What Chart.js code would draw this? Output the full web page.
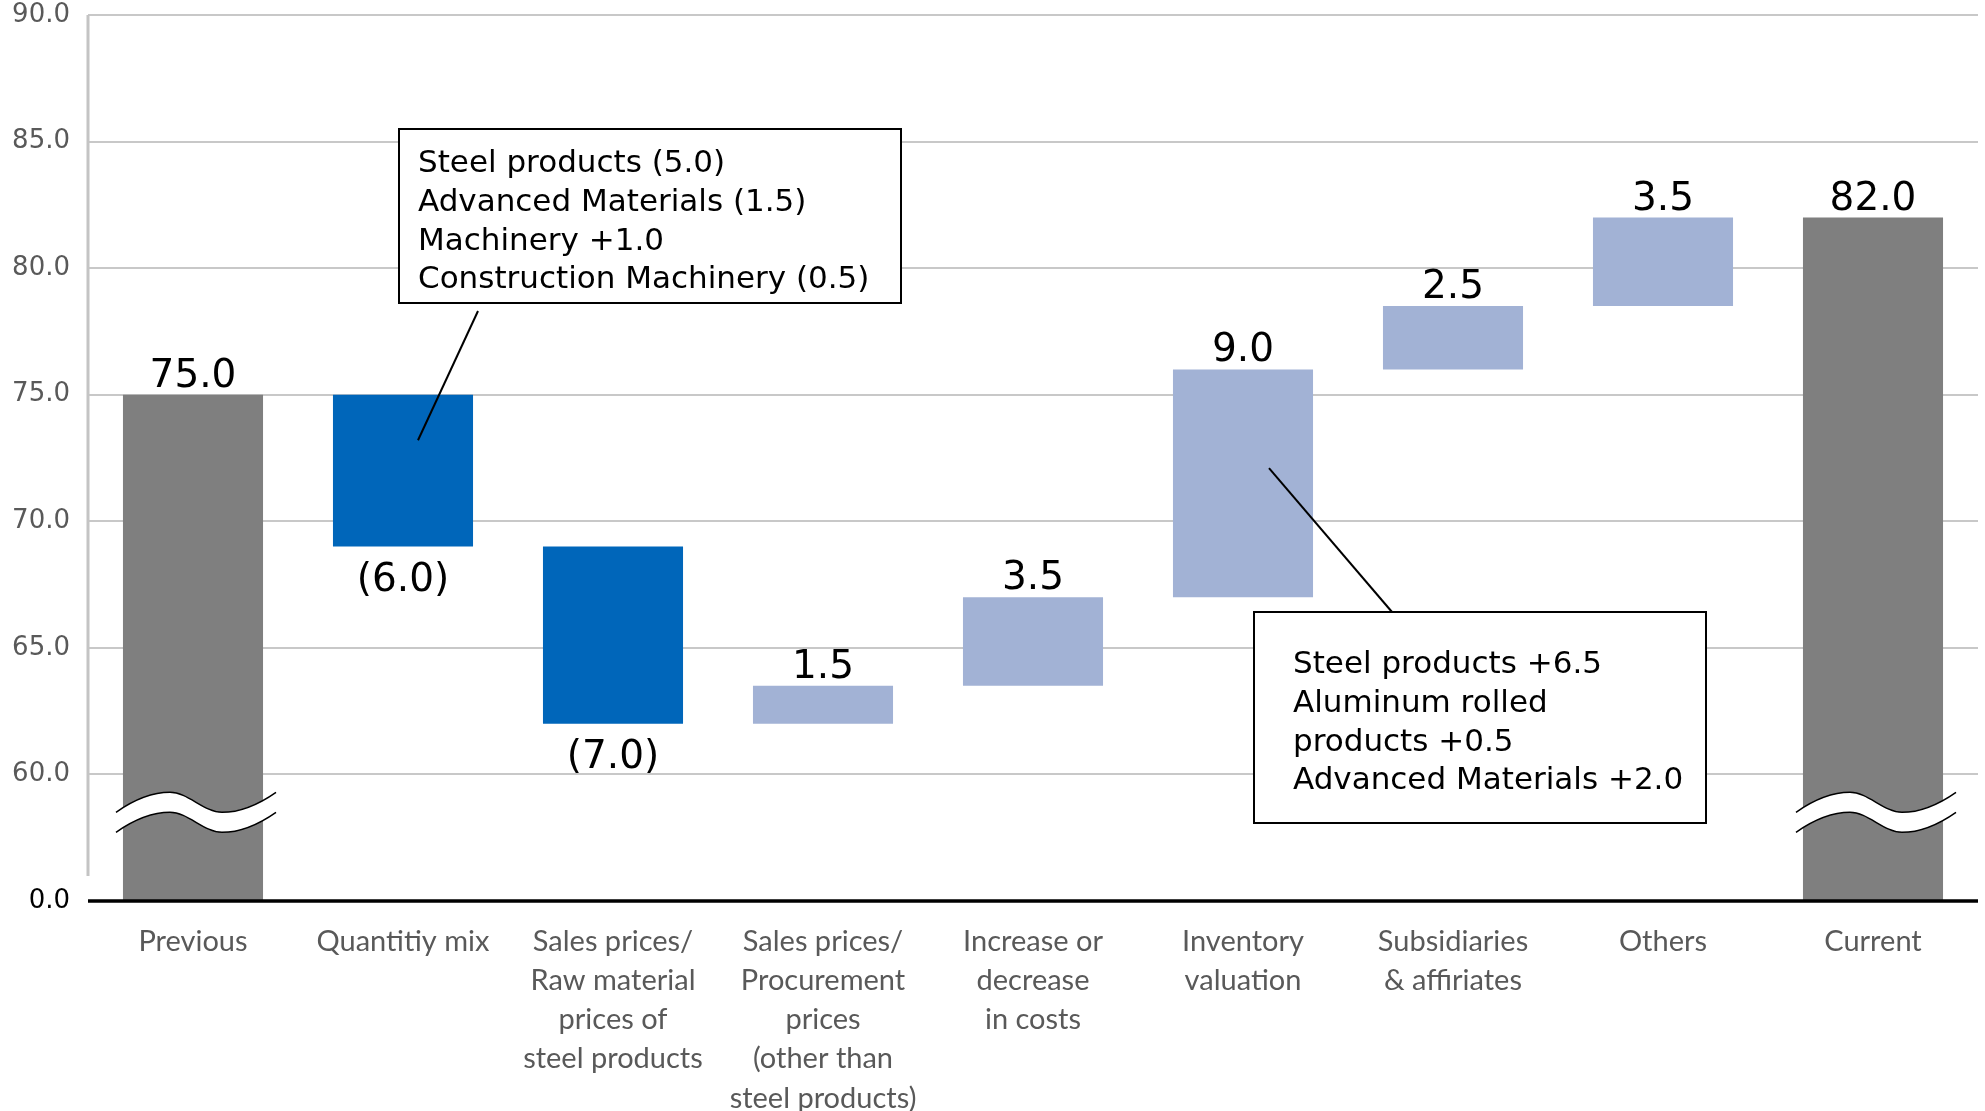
<!DOCTYPE html>
<html>
<head>
<meta charset="utf-8">
<script src="https://cdn.jsdelivr.net/npm/chart.js@4"></script>
<style>
  html, body { margin: 0; padding: 0; background: #fff; }
  canvas { display: block; }
</style>
</head>
<body>
<canvas id="grafico-puente" width="1985" height="1111"></canvas>
<script>
// Categorías del eje X (texto en varias líneas)
const categorias = [
  'Previous',
  'Quantitiy mix',
  ['Sales prices/', 'Raw material', 'prices of', 'steel products'],
  ['Sales prices/', 'Procurement', 'prices', '(other than', 'steel products)'],
  ['Increase or', 'decrease', 'in costs'],
  ['Inventory', 'valuation'],
  ['Subsidiaries', '& affiriates'],
  'Others',
  'Current'
];

// Totales inicial y final
const totalAnterior = 75.0;
const totalActual = 82.0;

// Variaciones intermedias
const variaciones = [-6.0, -7.0, 1.5, 3.5, 9.0, 2.5, 3.5];

// Marcas del eje Y (55 representa el 0.0 tras el corte)
const ticksEjeY = [55, 60, 65, 70, 75, 80, 85, 90];
const ejeMin = 55;

// Notas explicativas
const notaMix = ['Steel products (5.0)', 'Advanced Materials (1.5)', 'Machinery +1.0', 'Construction Machinery (0.5)'];
const notaInventario = ['Steel products +6.5', 'Aluminum rolled', 'products +0.5', 'Advanced Materials +2.0'];

const COLOR_TOTAL = '#7f7f7f';
const COLOR_BAJA = '#0066ba';
const COLOR_SUBA = '#a2b2d5';

// Construir barras flotantes acumuladas
const rangos = [[ejeMin, totalAnterior]];
const colores = [COLOR_TOTAL];
const etiquetas = [totalAnterior.toFixed(1)];
let acumulado = totalAnterior;
variaciones.forEach(v => {
  rangos.push([acumulado, acumulado + v]);
  colores.push(v < 0 ? COLOR_BAJA : COLOR_SUBA);
  etiquetas.push(v < 0 ? '(' + Math.abs(v).toFixed(1) + ')' : v.toFixed(1));
  acumulado += v;
});
rangos.push([ejeMin, totalActual]);
colores.push(COLOR_TOTAL);
etiquetas.push(totalActual.toFixed(1));

// Etiquetas de valor sobre / bajo cada barra
const pluginEtiquetas = {
  id: 'etiquetas',
  afterDatasetsDraw(chart) {
    const ctx = chart.ctx;
    const meta = chart.getDatasetMeta(0);
    ctx.save();
    ctx.font = '39px "DejaVu Sans"';
    ctx.fillStyle = '#000';
    ctx.textAlign = 'center';
    ctx.textBaseline = 'alphabetic';
    meta.data.forEach((bar, i) => {
      const arriba = Math.min(bar.y, bar.base);
      const abajo = Math.max(bar.y, bar.base);
      const r = rangos[i];
      if (r[1] < r[0]) {
        ctx.fillText(etiquetas[i], bar.x, abajo + 44);
      } else {
        ctx.fillText(etiquetas[i], bar.x, arriba - 8);
      }
    });
    ctx.restore();
  }
};

// Ejes: línea base negra, eje vertical gris y corte ondulado
const pluginEjes = {
  id: 'ejes',
  afterDatasetsDraw(chart) {
    const ctx = chart.ctx;
    const area = chart.chartArea;
    const y = chart.scales.y;
    const base = y.getPixelForValue(ejeMin);
    ctx.save();
    // eje vertical
    ctx.strokeStyle = '#c4c4c4';
    ctx.lineWidth = 3;
    ctx.beginPath();
    ctx.moveTo(area.left, area.top);
    ctx.lineTo(area.left, base - 25);
    ctx.stroke();
    // línea base
    ctx.strokeStyle = '#000';
    ctx.lineWidth = 3.5;
    ctx.beginPath();
    ctx.moveTo(area.left, base);
    ctx.lineTo(area.right, base);
    ctx.stroke();

    // corte del eje en las barras totales
    const meta = chart.getDatasetMeta(0);
    const yc = y.getPixelForValue(58.9);
    [0, meta.data.length - 1].forEach(i => {
      const cx = meta.data[i].x + 3;
      const curva = (dy) => {
        ctx.moveTo(cx - 80, yc + 10 + dy);
        ctx.bezierCurveTo(cx - 60, yc - 4 + dy, cx - 42, yc - 10 + dy, cx - 26, yc - 10 + dy);
        ctx.bezierCurveTo(cx - 8, yc - 10 + dy, cx + 8, yc + 10 + dy, cx + 26, yc + 10 + dy);
        ctx.bezierCurveTo(cx + 42, yc + 10 + dy, cx + 60, yc + 4 + dy, cx + 80, yc - 10 + dy);
      };
      ctx.fillStyle = '#fff';
      ctx.beginPath();
      ctx.moveTo(cx - 80, yc + 10);
      ctx.bezierCurveTo(cx - 60, yc - 4, cx - 42, yc - 10, cx - 26, yc - 10);
      ctx.bezierCurveTo(cx - 8, yc - 10, cx + 8, yc + 10, cx + 26, yc + 10);
      ctx.bezierCurveTo(cx + 42, yc + 10, cx + 60, yc + 4, cx + 80, yc - 10);
      ctx.lineTo(cx + 80, yc + 10);
      ctx.bezierCurveTo(cx + 60, yc + 24, cx + 42, yc + 30, cx + 26, yc + 30);
      ctx.bezierCurveTo(cx + 8, yc + 30, cx - 8, yc + 10, cx - 26, yc + 10);
      ctx.bezierCurveTo(cx - 42, yc + 10, cx - 60, yc + 16, cx - 80, yc + 30);
      ctx.closePath();
      ctx.fill();
      ctx.strokeStyle = '#000';
      ctx.lineWidth = 1.5;
      ctx.beginPath();
      curva(0);
      curva(20);
      ctx.stroke();
    });
    ctx.restore();
  }
};

// Cuadros de notas con línea guía hacia la barra
function dibujarNota(ctx, lineas, caja, textoX, primeraLinea, desde, hasta) {
  ctx.strokeStyle = '#000';
  ctx.lineWidth = 2;
  ctx.beginPath();
  ctx.moveTo(desde.x, desde.y);
  ctx.lineTo(hasta.x, hasta.y);
  ctx.stroke();
  ctx.fillStyle = '#fff';
  ctx.fillRect(caja.x, caja.y, caja.w, caja.h);
  ctx.strokeRect(caja.x, caja.y, caja.w, caja.h);
  ctx.fillStyle = '#000';
  ctx.font = '31px "DejaVu Sans"';
  ctx.textAlign = 'left';
  ctx.textBaseline = 'alphabetic';
  lineas.forEach((t, i) => ctx.fillText(t, textoX, primeraLinea + i * 38.8));
}

const pluginNotas = {
  id: 'notas',
  afterDraw(chart) {
    const ctx = chart.ctx;
    const y = chart.scales.y;
    const meta = chart.getDatasetMeta(0);
    ctx.save();
    const barMix = meta.data[1];
    dibujarNota(ctx, notaMix,
      { x: 399, y: 129, w: 502, h: 174 }, 418, 172,
      { x: barMix.x + 15, y: y.getPixelForValue(73.2) }, { x: 478, y: 311 });
    const barInv = meta.data[5];
    dibujarNota(ctx, notaInventario,
      { x: 1254, y: 612, w: 452, h: 211 }, 1293, 673,
      { x: barInv.x + 26, y: y.getPixelForValue(72.1) }, { x: 1392, y: 612 });
    ctx.restore();
  }
};

new Chart(document.getElementById('grafico-puente'), {
  type: 'bar',
  data: {
    labels: categorias,
    datasets: [{
      data: rangos,
      backgroundColor: colores,
      borderWidth: 0,
      borderSkipped: false,
      barPercentage: 0.667,
      categoryPercentage: 1.0
    }]
  },
  options: {
    responsive: false,
    animation: false,
    layout: { padding: { top: 0, right: 7, bottom: 0, left: 0 } },
    plugins: {
      legend: { display: false },
      tooltip: { enabled: false },
      title: { display: false }
    },
    scales: {
      x: {
        grid: { display: false, drawTicks: false },
        border: { display: false },
        ticks: {
          color: '#595959',
          font: { family: 'Lato', size: 29, lineHeight: 1.35 },
          padding: 21,
          maxRotation: 0,
          autoSkip: false
        },
        afterFit(scale) { scale.height = 210; }
      },
      y: {
        min: 55,
        max: 90,
        afterBuildTicks(scale) {
          scale.ticks = ticksEjeY.map(v => ({ value: v }));
        },
        grid: {
          color: ctx => ctx.tick && ctx.tick.value === ejeMin ? 'rgba(0,0,0,0)' : '#c8c8c8',
          lineWidth: 2,
          drawTicks: false
        },
        border: { display: false },
        ticks: {
          color: ctx => ctx.tick && ctx.tick.value === ejeMin ? '#000' : '#595959',
          font: { family: 'DejaVu Sans', size: 26 },
          padding: 18,
          callback: v => v === ejeMin ? '0.0' : v.toFixed(1)
        },
        afterFit(scale) {
          scale.width = 88;
          scale.paddingTop = 15;
          scale.paddingBottom = 0;
        }
      }
    }
  },
  plugins: [pluginEtiquetas, pluginEjes, pluginNotas]
});
</script>
</body>
</html>
